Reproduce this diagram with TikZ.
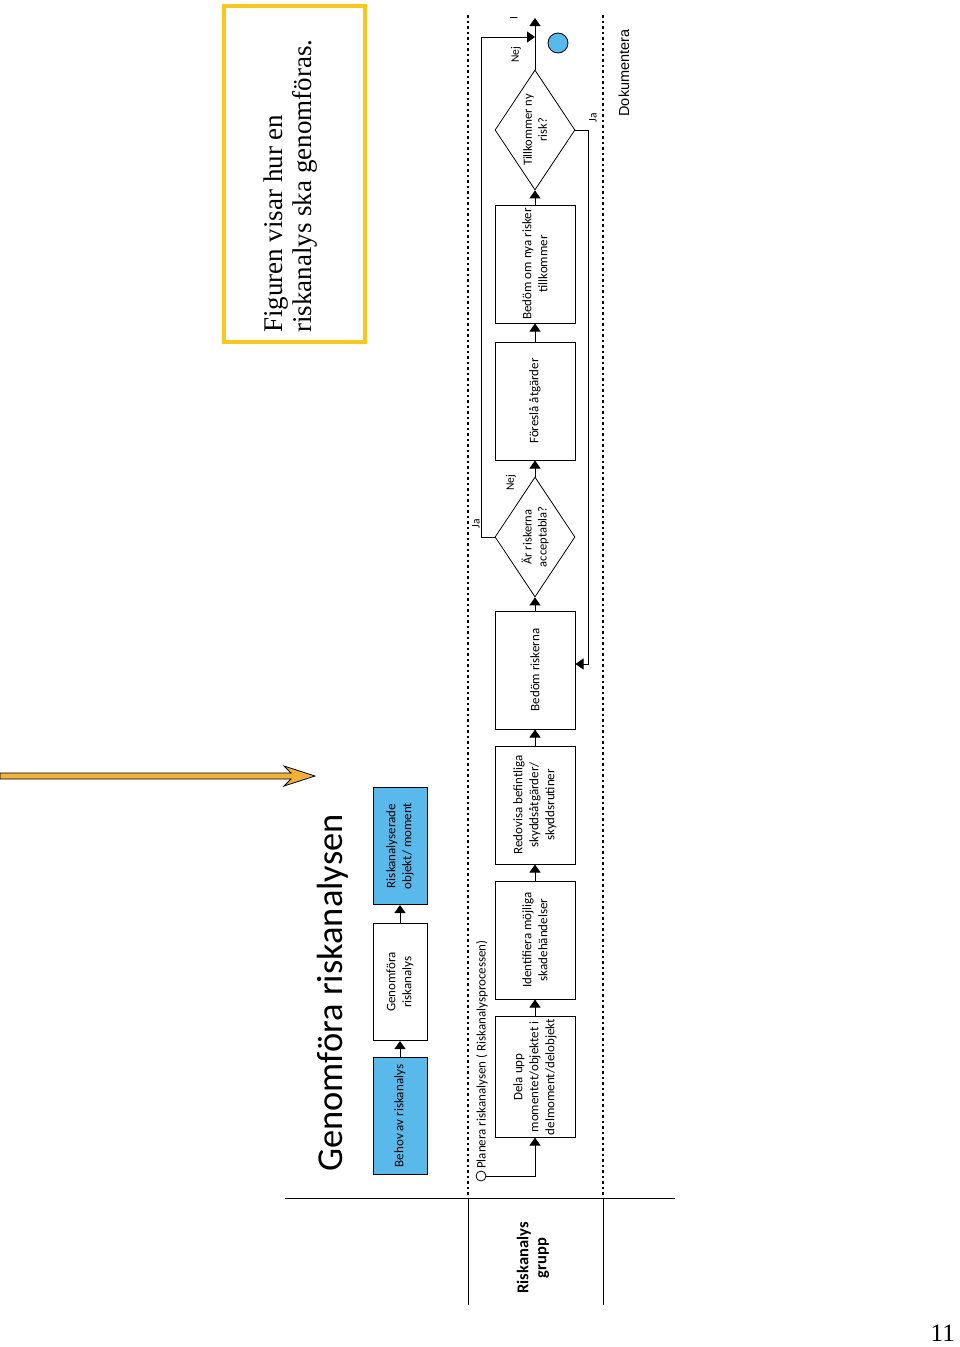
\documentclass[tikz,border=0pt]{standalone}
\usepackage{fontspec}
\setmainfont{Carlito}
\newfontfamily\notefont{Liberation Serif}
\newfontfamily\lanefont{Liberation Sans}
\usetikzlibrary{arrows.meta,shapes.geometric}
\definecolor{flowblue}{RGB}{90,185,235}
\definecolor{notegold}{RGB}{247,200,30}
\definecolor{pointer}{RGB}{242,178,58}

\begin{document}
\begin{tikzpicture}[x=1pt, y=-1pt,
  stepbox/.style={draw, line width=1pt, rotate=90, minimum width=118pt, minimum height=80pt, inner sep=2pt, align=center, font=\fontsize{13}{16}\selectfont},
  topbox/.style={draw, line width=1pt, rotate=90, minimum width=117pt, minimum height=54pt, inner sep=2pt, align=center, font=\fontsize{13}{16}\selectfont},
  choice/.style={draw, line width=0.8pt, diamond, aspect=1.5, rotate=90, minimum width=120pt, minimum height=80pt, inner sep=0pt, align=center, font=\fontsize{12.5}{15}\selectfont},
  flow/.style={line width=1pt, -{Triangle[width=11pt,length=8pt]}},
  lane/.style={line width=1.4pt, dash pattern=on 2.5pt off 3pt},
  tag/.style={rotate=90, inner sep=0pt, font=\fontsize{11.5}{13}\selectfont}
]
\fill[white] (0,0) rectangle (960,1347);
\useasboundingbox (0,0) rectangle (960,1347);

\node[draw=notegold, line width=4pt, rotate=90, minimum width=336pt, minimum height=141pt] (note) at (294.5,174) {};
\node[rotate=90, anchor=west, inner sep=0pt, align=left, font=\notefont\fontsize{27}{29}\selectfont] (notetext) at (291,333) {Figuren visar hur en\\riskanalys ska genomföras.};

\fill[pointer, draw=black, line width=0.8pt] (0,773) -- (291,773) -- (284,766) -- (315,776) -- (284,786) -- (291,779) -- (0,779) -- cycle;

\node[rotate=90, font=\fontsize{36.5}{42}\selectfont] (title) at (333,993) {Genomföra riskanalysen};

\node[topbox, fill=flowblue] (need) at (400,1116) {Behov av riskanalys};
\node[topbox] (perform) at (400,982) {Genomföra\\riskanalys};
\node[topbox, fill=flowblue] (result) at (400,846) {Riskanalyserade\\objekt/ moment};
\draw[flow] (need) -- (perform);
\draw[flow] (perform) -- (result);

\draw[line width=1pt] (285,1198) -- (675,1198);
\draw[line width=1pt] (468,1198) -- (468,1305);
\draw[line width=1pt] (603,1198) -- (603,1305);
\draw[lane] (468,15) -- (468,1198);
\draw[lane] (603,15) -- (603,1198);
\node[rotate=90, align=center, font=\bfseries\fontsize{16.5}{18}\selectfont] (group) at (533,1258) {Riskanalys\\grupp};
\node[rotate=90, font=\lanefont\fontsize{14.5}{16}\selectfont] (doc) at (624,73) {Dokumentera};

\node[circle, draw, line width=0.8pt, minimum size=10pt, inner sep=0pt] (start) at (481,1176) {};
\node[tag, anchor=west, font=\fontsize{13}{15}\selectfont] (plan) at (482,1169) {Planera riskanalysen ( Riskanalysprocessen)};

\node[stepbox] (split) at (535,1077) {Dela upp\\momentet/objektet i\\delmoment/delobjekt};
\node[stepbox] (identify) at (535,940) {Identifiera möjliga\\skadehändelser};
\node[stepbox] (report) at (535,805) {Redovisa befintliga\\skyddsåtgärder/\\skyddsrutiner};
\node[stepbox] (assess) at (535,670) {Bedöm riskerna};
\node[choice] (accept) at (535,537) {Är riskerna\\acceptabla?};
\node[stepbox] (propose) at (535,401) {Föreslå åtgärder};
\node[stepbox] (reassess) at (535,264) {Bedöm om nya risker\\tillkommer};
\node[choice] (newrisk) at (535,130) {Tillkommer ny\\risk?};
\node[circle, draw, fill=flowblue, line width=0.8pt, minimum size=20pt, inner sep=0pt] (finish) at (558,43) {};

\coordinate (exit) at (535,18);
\coordinate (jaUp) at (481,37);
\coordinate (jaDown) at (588,664);

\draw[flow] (start) -| (split);
\draw[flow] (split) -- (identify);
\draw[flow] (identify) -- (report);
\draw[flow] (report) -- (assess);
\draw[flow] (assess) -- (accept);
\draw[flow] (accept) -- (propose);
\draw[flow] (propose) -- (reassess);
\draw[flow] (reassess) -- (newrisk);
\draw[flow] (newrisk) -- (exit);
\draw[flow] (accept.north) -| (jaUp) -- (jaUp -| exit);
\draw[flow] (newrisk.south) -| (jaDown) -- (jaDown -| assess.south);

\node[tag] (ja1) at (476,524) {Ja};
\node[tag] (nej1) at (511,483) {Nej};
\node[tag] (nej2) at (516,55) {Nej};
\node[tag] (ja2) at (593,118) {Ja};
\node[tag] (mark) at (514,18) {I};

\node[anchor=south east, inner sep=0pt, font=\notefont\fontsize{25}{28}\selectfont] (page) at (955,1342) {11};
\end{tikzpicture}
\end{document}
